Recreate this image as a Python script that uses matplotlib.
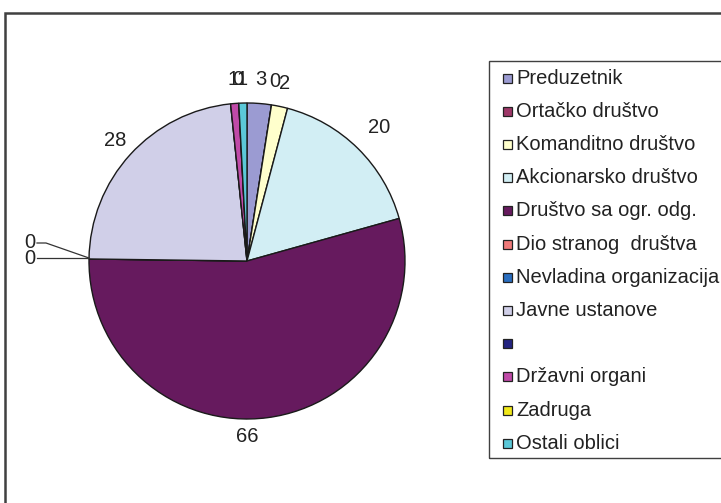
import numpy as np
import matplotlib
matplotlib.use("Agg")
import matplotlib.pyplot as plt
from matplotlib.patches import Rectangle

plt.rcParams['font.family'] = ['Liberation Sans', 'DejaVu Sans']

categories = ["Preduzetnik", "Ortačko društvo", "Komanditno društvo",
              "Akcionarsko društvo", "Društvo sa ogr. odg.", "Dio stranog  društva",
              "Nevladina organizacija", "Javne ustanove", "", "Državni organi",
              "Zadruga", "Ostali oblici"]
values = [3, 0, 2, 20, 66, 0, 0, 28, 0, 1, 0, 1]
colors = ["#9b9bd2", "#9e3768", "#ffffcc", "#d2eef4", "#661a5e", "#f07a7a",
          "#2a6ec0", "#d0cfe8", "#232380", "#c04aa8", "#f0e81a", "#5bc8d8"]

W, H = 721, 503
fig = plt.figure(figsize=(W / 100, H / 100), dpi=100)

def fx(px):
    return px / W

def fy(py):
    return 1 - py / H

# outer frame
fig.add_artist(Rectangle((fx(5), -0.2), 2, fy(13) + 0.2, transform=fig.transFigure,
                         fill=False, ec="#404040", lw=1.8))

# pie
cx, cy, R = 247, 261, 158
ax = fig.add_axes([fx(cx - R), fy(cy + R), 2 * R / W, 2 * R / H])
wedges, _ = ax.pie(values, colors=colors, startangle=90, counterclock=False,
                   wedgeprops=dict(edgecolor="#1a1a1a", linewidth=1.0))
ax.set_xlim(-1, 1)
ax.set_ylim(-1, 1)
ax.set_aspect("equal")
ax.axis("off")

def d(px, py):
    return (px - cx) / R, (cy - py) / R

total = sum(values)
cum = np.cumsum([0] + values)
fs = 14.5
fixed_pos = {5: d(30, 258), 6: d(30, 243), 4: d(247, 437)}
label_r = {3: 1.19, 7: 1.13}
for i, v in enumerate(values):
    if categories[i] == "":
        continue
    if i in fixed_pos:
        tx, ty = fixed_pos[i]
    else:
        mid = (cum[i] + cum[i + 1]) / 2 / total * 360
        ang = np.deg2rad(90 - mid)
        r = label_r.get(i, 1.15)
        tx, ty = r * np.cos(ang), r * np.sin(ang)
    ax.text(tx, ty, str(v), ha="center", va="center", fontsize=fs, color="#222")

# leader lines for the zero labels on the left
l1 = [d(37, 258), d(89, 258)]
l2 = [d(37, 243), d(46, 243), d(89, 258)]
for seg in (l1, l2):
    xs, ys = zip(*seg)
    ax.plot(xs, ys, color="#333", lw=0.9, clip_on=False)

# legend
fig.add_artist(Rectangle((fx(489), fy(458)), 1, fy(61) - fy(458), transform=fig.transFigure,
                         fill=False, ec="#404040", lw=1.0))
y0, dy = 78, 33.2
for i, (lab, col) in enumerate(zip(categories, colors)):
    yy = y0 + i * dy
    fig.add_artist(Rectangle((fx(503), fy(yy + 4.5)), 9 / W, 9 / H, transform=fig.transFigure,
                             fc=col, ec="#222", lw=0.9))
    fig.text(fx(516), fy(yy), lab, ha="left", va="center", fontsize=fs, color="#222")

fig.savefig("out.png", dpi=100)
